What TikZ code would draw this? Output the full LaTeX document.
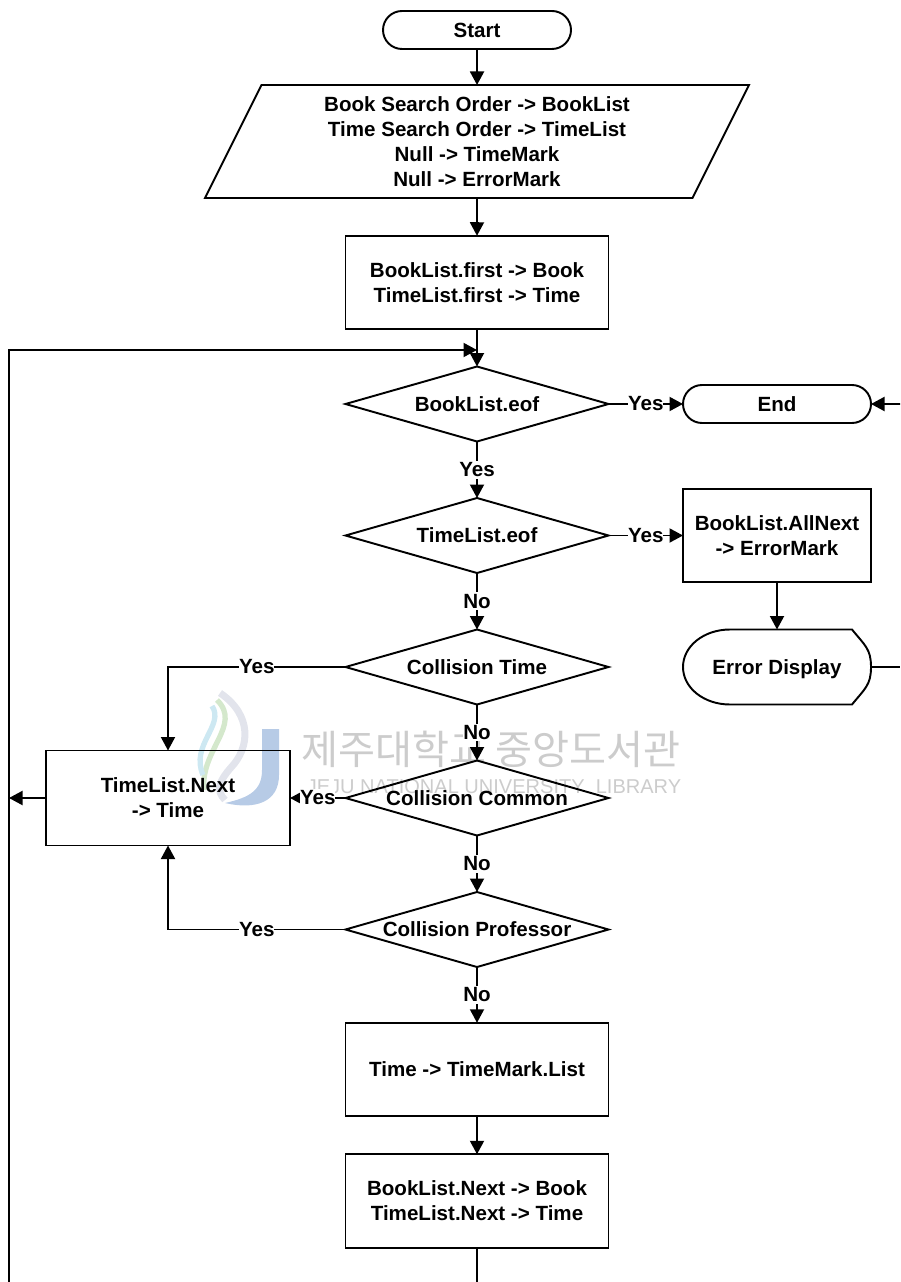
\documentclass[tikz,border=0pt]{standalone}
\usepackage{fontspec}
\setmainfont{Liberation Sans}
\newfontfamily\cjk{Noto Sans CJK KR}
\usetikzlibrary{arrows.meta,shapes.geometric,shapes.misc}
\definecolor{markgray}{HTML}{CCCCCC}
\definecolor{markblue}{HTML}{B7CBE6}
\definecolor{swirlgray}{HTML}{E2E4EC}
\definecolor{swirlgreen}{HTML}{D4E8CC}
\definecolor{swirlblue}{HTML}{CDE8F2}
\newcommand{\dtext}[1]{\makebox[0pt]{#1}}

\begin{document}
\begin{tikzpicture}[->,>={Triangle[length=.27cm,width=.28cm]},line width=1.1pt,
  every node/.style={font=\fontsize{11.7}{14.2}\selectfont\bfseries,align=center,inner sep=0pt,outer sep=0pt},
  term node/.style={rounded rectangle,draw,minimum width=3.76cm,minimum height=.76cm},
  io node/.style={trapezium,trapezium left angle=66,trapezium right angle=114,trapezium stretches=true,
    draw,minimum width=10.9cm,minimum height=2.26cm},
  main node/.style={rectangle,draw,minimum width=5.26cm,minimum height=1.87cm},
  side node/.style={rectangle,draw,minimum width=3.76cm,minimum height=1.87cm},
  wide node/.style={rectangle,draw,minimum width=4.88cm,minimum height=1.9cm},
  show node/.style={rectangle,text depth=0pt,minimum width=3.76cm,minimum height=1.5cm},
  test node/.style={diamond,draw,minimum width=5.26cm,minimum height=1.5cm},
  answer/.style={fill=white,inner ysep=1pt},
  mark text/.style={text=markgray,font=\fontsize{11.4}{14}\selectfont}]

  \useasboundingbox (0,0) rectangle (18,-25.64);

  % watermark
  \node[mark text,font=\cjk\fontsize{22.9}{26}\selectfont] (libkr) at (9.82,-14.98) {제주대학교 중앙도서관};
  \node[mark text] (liben) at (9.88,-15.74) {JEJU NATIONAL UNIVERSITY\ \ LIBRARY};
  \fill[markblue] (5.24,-14.58) -- (5.58,-14.58) -- (5.58,-15.5) .. controls (5.58,-16.05) and (5.1,-16.2) .. (4.5,-16.06)
    .. controls (5,-15.95) and (5.24,-15.8) .. (5.24,-15.4) -- cycle;
  \draw[-,swirlgray,line width=4pt] (4.4,-13.86) .. controls (5.05,-14.3) and (5,-14.95) .. (4.62,-15.35) .. controls (4.4,-15.6) and (4.3,-15.8) .. (4.5,-16);
  \draw[-,swirlgreen,line width=3pt] (4.34,-14) .. controls (4.85,-14.5) and (4,-15) .. (4.08,-15.8);
  \draw[-,swirlblue,line width=3pt] (4.24,-14.12) .. controls (4.5,-14.5) and (3.8,-14.9) .. (4.06,-15.5);

  \node[term node] (start) at (9.54,-.6) {Start};
  \node[io node] (input) [below of=start,node distance=2.23cm] {Book Search Order -> BookList\\Time Search Order -> TimeList\\Null -> TimeMark\\Null -> ErrorMark};
  \node[main node] (first) [below of=input,node distance=2.82cm] {BookList.first -> Book\\TimeList.first -> Time};
  \node[test node] (bookeof) [below of=first,node distance=2.43cm] {\dtext{BookList.eof}};
  \node[test node] (timeeof) [below of=bookeof,node distance=2.63cm] {\dtext{TimeList.eof}};
  \node[test node] (ctime) [below of=timeeof,node distance=2.63cm] {\dtext{Collision Time}};
  \node[test node] (ccommon) [below of=ctime,node distance=2.62cm] {\dtext{Collision Common}};
  \node[test node] (cprof) [below of=ccommon,node distance=2.63cm] {\dtext{Collision Professor}};
  \node[main node] (tmark) [below of=cprof,node distance=2.8cm] {Time -> TimeMark.List};
  \node[main node] (bnext) [below of=tmark,node distance=2.63cm] {BookList.Next -> Book\\TimeList.Next -> Time};

  \node[term node] (end) [right of=bookeof,node distance=6cm] {End};
  \node[side node] (allnext) [right of=timeeof,node distance=6cm] {BookList.AllNext\\-> ErrorMark};
  \node[show node] (display) [right of=ctime,node distance=6cm] {Error Display};
  \node[wide node] (tnext) [left of=ccommon,node distance=6.18cm] {TimeList.Next\\-> Time};

  \draw[-] ([xshift=.94cm]display.north west) -- ([xshift=-.38cm]display.north east)
    .. controls ([xshift=-.12cm,yshift=-.32cm]display.north east) and ([yshift=.36cm]display.east) .. (display.east)
    .. controls ([yshift=-.36cm]display.east) and ([xshift=-.12cm,yshift=.32cm]display.south east) .. ([xshift=-.38cm]display.south east)
    -- ([xshift=.94cm]display.south west)
    .. controls ([xshift=.42cm]display.south west) and ([yshift=-.42cm]display.west) .. (display.west)
    .. controls ([yshift=.42cm]display.west) and ([xshift=.42cm]display.north west) .. ([xshift=.94cm]display.north west) -- cycle;

  \coordinate (join) at (9.54,-7);
  \coordinate (loopup) at (.18,-7);
  \coordinate (loopend) at (.18,-25.64);
  \coordinate (rim) at (18,0);
  \coordinate (loopmid) at (loopup |- tnext);
  \coordinate (bnextend) at (9.54,-25.64);
  \coordinate (endin) at (rim |- end);
  \coordinate (showout) at (rim |- display);

  \path
    (start) edge (input)
    (input) edge (first)
    (first) edge (bookeof)
    (bookeof) edge node[answer] {Yes} (timeeof)
              edge node[answer] {Yes} (end)
    (timeeof) edge node[answer] {No} (ctime)
              edge node[answer] {Yes} (allnext)
    (ctime) edge node[answer] {No} (ccommon)
    (ccommon) edge node[answer] {No} (cprof)
              edge node[answer] {Yes} (tnext)
    (cprof) edge node[answer] {No} (tmark)
    (tmark) edge (bnext)
    (allnext) edge (display)
    (endin) edge (end)
    (tnext) edge (loopmid);
  \draw (ctime.west) -| node[answer,pos=.25] {Yes} (tnext.north);
  \draw (cprof.west) -| node[answer,pos=.25] {Yes} (tnext.south);
  \draw (loopend) -- (loopup) -- (join);
  \draw[-] (bnext) -- (bnextend);
  \draw[-] (display) -- (showout);
\end{tikzpicture}
\end{document}
